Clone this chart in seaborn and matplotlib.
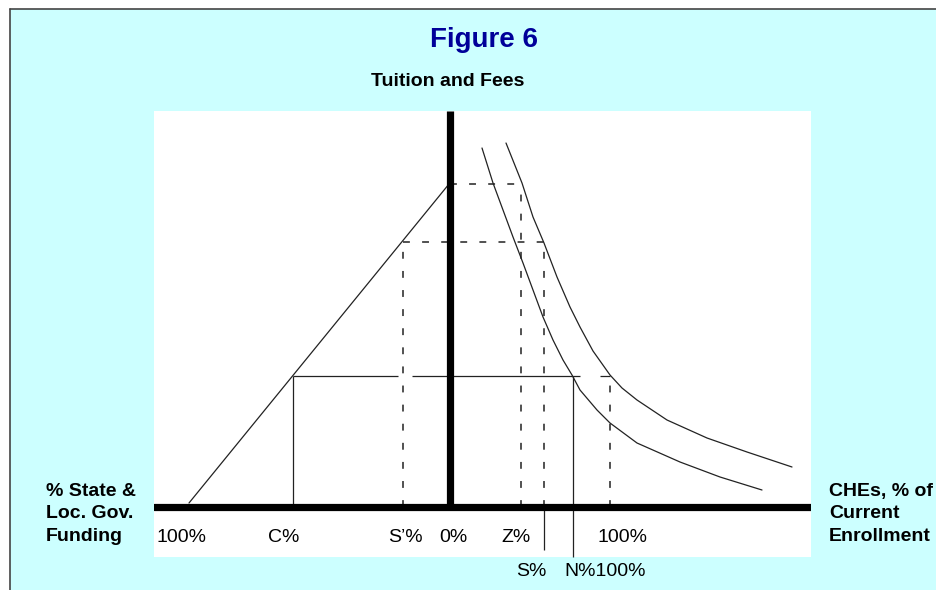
import matplotlib
matplotlib.use('Agg')
import matplotlib.pyplot as plt
from matplotlib.patches import Rectangle
from matplotlib.lines import Line2D
import seaborn as sns

# Diagram units: x = distance from the tuition axis, y = height above the enrollment axis
fund_x = [-261, -1]
fund_y = [4, 323]

demand_low_x = [32, 43, 53, 63, 73, 83, 93, 103, 113, 122, 130, 147, 160, 187, 230, 270, 312]
demand_low_y = [359, 324, 297, 270, 244, 217, 190, 167, 147, 132, 117, 97, 84, 64, 45, 30, 17]
demand_high_x = [56, 72, 83, 94, 107, 120, 130, 143, 160, 172, 187, 217, 257, 297, 342]
demand_high_y = [364, 324, 290, 264, 230, 200, 180, 156, 132, 119, 107, 87, 69, 55, 40]

# tuition levels and the enrollment / funding shares they map to
level_top, level_mid, level_low = 323, 265, 131
pos = {'100L': -261, 'C': -157, 'Sp': -47, 'Z': 71, 'S': 94, 'N': 123, '100R': 160}

row1_labels = ['100%', 'C%', 'S\u2019%', '0%', 'Z%', '100%']
row1_x = [-268, -166, -45, 3, 66, 173]
row2_labels = ['S%', 'N%100%']
row2_x = [81, 155]

W, H = 937, 590
sns.set_theme(style='white')
plt.rcParams['font.family'] = ['Liberation Sans', 'DejaVu Sans']
plt.rcParams['text.color'] = 'black'

fig = plt.figure(figsize=(W / 100, H / 100), dpi=100, facecolor='white')
fig.patches.append(Rectangle((10 / W, 0), (W - 10) / W, (H - 9) / H, transform=fig.transFigure,
                             facecolor='#ccffff', edgecolor='none', zorder=-5))
fig.lines.append(Line2D([10 / W, 10 / W], [0, 1 - 9 / H], transform=fig.transFigure, color='#444444', lw=1.2))
fig.lines.append(Line2D([10 / W, 1], [1 - 9 / H, 1 - 9 / H], transform=fig.transFigure, color='#444444', lw=1.2))

ax = fig.add_axes([154 / W, 33 / H, 657 / W, 446 / H], zorder=2)
ax.set_facecolor('white')
ax.set_xlim(-296, 361)
ax.set_ylim(-50, 396)
for s in ax.spines.values():
    s.set_visible(False)
ax.set_xticks([])
ax.set_yticks([])

lc = '#222222'
lw = 0.9
dlw = 1.1
dash = (0, (4.5, 8))

sns.lineplot(x=fund_x, y=fund_y, sort=False, estimator=None, color=lc, lw=lw, ax=ax)
sns.lineplot(x=demand_low_x, y=demand_low_y, sort=False, estimator=None, color=lc, lw=lw, ax=ax)
sns.lineplot(x=demand_high_x, y=demand_high_y, sort=False, estimator=None, color=lc, lw=lw, ax=ax)

# dashed guides
ax.hlines(level_top, 0, pos['Z'], color=lc, lw=dlw, linestyles=dash)
ax.hlines(level_mid, pos['Sp'], pos['S'], color=lc, lw=dlw, linestyles=dash)
ax.hlines(level_low, pos['100R'] - 10, pos['100R'], color=lc, lw=lw)
ax.vlines(pos['Sp'], 0, level_mid, color=lc, lw=dlw, linestyles=dash)
ax.vlines(pos['Z'], 0, level_top, color=lc, lw=dlw, linestyles=dash)
ax.vlines(pos['S'], 0, level_mid, color=lc, lw=dlw, linestyles=dash)
ax.vlines(pos['100R'], 0, level_low, color=lc, lw=dlw, linestyles=dash)

# solid guides
ax.hlines(level_low, pos['C'], pos['Sp'] - 5, color=lc, lw=lw)
ax.hlines(level_low, pos['Sp'] + 9, pos['N'] + 7, color=lc, lw=lw)
ax.vlines(pos['C'], 0, level_low, color=lc, lw=lw)
ax.vlines(pos['S'], -43, 0, color=lc, lw=lw, clip_on=False)
ax.vlines(pos['N'], -50, level_low, color=lc, lw=lw, clip_on=False)

# thick axes
ax.axhline(0, color='black', lw=5.2, zorder=5)
ax.vlines(0, 0, 396, color='black', lw=5.2, zorder=5)

for t, x in zip(row1_labels, row1_x):
    ax.text(x, -30, t, ha='center', va='center', fontsize=14, color='black')
for t, x in zip(row2_labels, row2_x):
    ax.text(x, -64, t, ha='center', va='center', fontsize=14, color='black', clip_on=False)

fig.text(484 / W, 1 - 40 / H, 'Figure 6', ha='center', va='center', fontsize=20,
         fontweight='bold', color='#000099')
fig.text(448 / W, 1 - 82 / H, 'Tuition and Fees', ha='center', va='center', fontsize=14,
         fontweight='bold', color='black')
fig.text(46 / W, 1 - 514 / H, '% State &\nLoc. Gov.\nFunding', ha='left', va='center',
         fontsize=14, fontweight='bold', linespacing=1.45, color='black')
fig.text(829 / W, 1 - 514 / H, 'CHEs, % of\nCurrent\nEnrollment', ha='left', va='center',
         fontsize=14, fontweight='bold', linespacing=1.45, color='black')

fig.savefig('out.png', dpi=100, facecolor='white')
